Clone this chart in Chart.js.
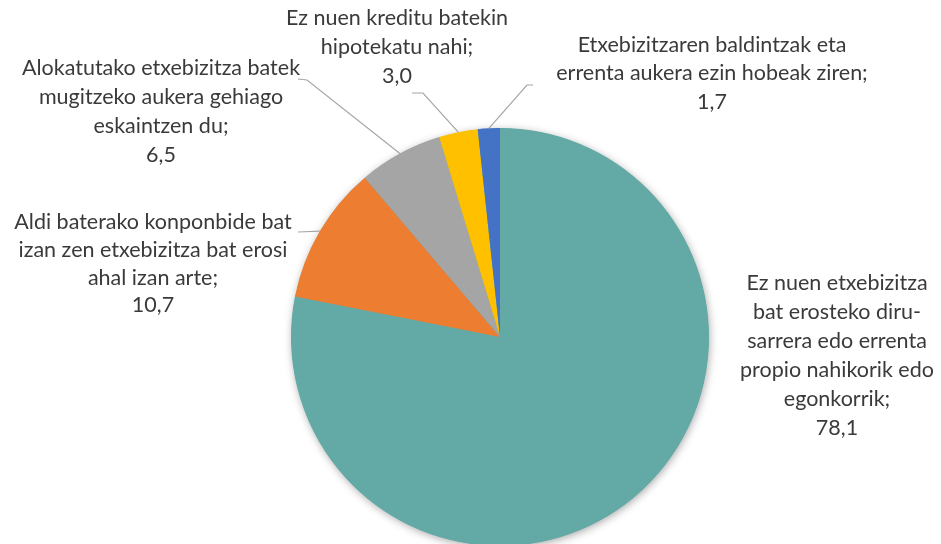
<!DOCTYPE html>
<html>
<head>
<meta charset="utf-8">
<script src="https://cdn.jsdelivr.net/npm/chart.js@4/dist/chart.umd.min.js"></script>
<style>
  html, body { margin: 0; padding: 0; background: #fff; overflow: hidden; }
  #wrap { width: 941px; height: 560px; position: relative; }
</style>
</head>
<body>
<div id="wrap"><canvas id="pieChart"></canvas></div>
<script>
// datuak
const categories = [
    'Ez nuen etxebizitza bat erosteko diru-sarrera edo errenta propio nahikorik edo egonkorrik',
    'Aldi baterako konponbide bat izan zen etxebizitza bat erosi ahal izan arte',
    'Alokatutako etxebizitza batek mugitzeko aukera gehiago eskaintzen du',
    'Ez nuen kreditu batekin hipotekatu nahi',
    'Etxebizitzaren baldintzak eta errenta aukera ezin hobeak ziren'
];
const values = [78.1, 10.7, 6.5, 3.0, 1.7];
const valueLabels = ['78,1', '10,7', '6,5', '3,0', '1,7'];
const labelLines = [
    ['Ez nuen etxebizitza', 'bat erosteko diru-', 'sarrera edo errenta', 'propio nahikorik edo', 'egonkorrik;'],
    ['Aldi baterako konponbide bat', 'izan zen etxebizitza bat erosi', 'ahal izan arte;'],
    ['Alokatutako etxebizitza batek', 'mugitzeko aukera gehiago', 'eskaintzen du;'],
    ['Ez nuen kreditu batekin', 'hipotekatu nahi;'],
    ['Etxebizitzaren baldintzak eta', 'errenta aukera ezin hobeak ziren;']
];
const colors = ['#63A9A6', '#ED7D31', '#A5A5A5', '#FFC000', '#4472C4'];

// etiketen kokapena (x zentroa, lehen lerroaren y, lerro altuera, gida-lerroaren puntuak)
const labelLayout = [
    { x: 837, y: 283, lh: 29, leader: null },
    { x: 153, y: 222, lh: 27.8, leader: [[298, 232]] },
    { x: 161, y: 68, lh: 29, leader: [[298, 79], [307, 80]] },
    { x: 397, y: 18, lh: 29, leader: [[412, 93], [423, 93]] },
    { x: 712, y: 45, lh: 28.5, leader: [[533, 85], [527, 85]] }
];

const pieShadow = {
    id: 'pieShadow',
    beforeDatasetsDraw(chart) {
        const arc = chart.getDatasetMeta(0).data[0];
        if (!arc) return;
        const ctx = chart.ctx;
        ctx.save();
        ctx.shadowColor = 'rgba(0,0,0,0.35)';
        ctx.shadowBlur = 9;
        ctx.shadowOffsetX = 1;
        ctx.shadowOffsetY = 2;
        ctx.fillStyle = colors[0];
        ctx.beginPath();
        ctx.arc(arc.x, arc.y, arc.outerRadius - 0.5, 0, Math.PI * 2);
        ctx.fill();
        ctx.restore();
    }
};

const sliceLabels = {
    id: 'sliceLabels',
    afterDatasetsDraw(chart) {
        const ctx = chart.ctx;
        const meta = chart.getDatasetMeta(0);
        ctx.save();
        meta.data.forEach((arc, i) => {
            const lay = labelLayout[i];
            if (lay.leader) {
                const mid = (arc.startAngle + arc.endAngle) / 2;
                const ex = arc.x + Math.cos(mid) * arc.outerRadius;
                const ey = arc.y + Math.sin(mid) * arc.outerRadius;
                ctx.strokeStyle = '#A6A6A6';
                ctx.lineWidth = 1.2;
                ctx.beginPath();
                ctx.moveTo(lay.leader[0][0], lay.leader[0][1]);
                lay.leader.slice(1).forEach(p => ctx.lineTo(p[0], p[1]));
                ctx.lineTo(ex, ey);
                ctx.stroke();
            }
            ctx.fillStyle = '#3A3A3A';
            ctx.font = '21.5px Lato, "Open Sans", sans-serif';
            ctx.textAlign = 'center';
            ctx.textBaseline = 'middle';
            const lines = labelLines[i].concat([valueLabels[i]]);
            lines.forEach((t, k) => ctx.fillText(t, lay.x, lay.y + k * lay.lh));
        });
        ctx.restore();
    }
};

new Chart(document.getElementById('pieChart'), {
    type: 'pie',
    data: {
        labels: categories,
        datasets: [{
            data: values,
            backgroundColor: colors,
            borderWidth: 0
        }]
    },
    options: {
        responsive: true,
        maintainAspectRatio: false,
        animation: false,
        layout: { padding: { left: 291, right: 232, top: 128, bottom: 14 } },
        plugins: {
            legend: { display: false },
            tooltip: { enabled: false }
        }
    },
    plugins: [pieShadow, sliceLabels]
});
</script>
</body>
</html>
